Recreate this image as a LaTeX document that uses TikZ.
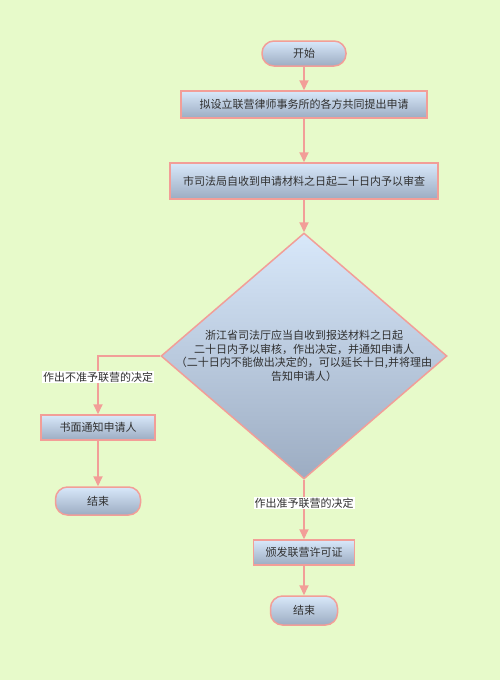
\documentclass[tikz,border=0pt]{standalone}
\usepackage{fontspec}
\setmainfont{Noto Sans CJK SC}
\usepackage{tikz}
\usetikzlibrary{arrows.meta,shapes.geometric}

\definecolor{bgcol}{RGB}{231,250,202}
\definecolor{edgecol}{RGB}{242,158,152}
\definecolor{topcol}{RGB}{216,232,250}
\definecolor{botcol}{RGB}{156,172,194}
\definecolor{txtcol}{RGB}{48,48,48}

\begin{document}
\begin{tikzpicture}[x=1pt,y=-1pt,
		font=\fontsize{11}{13.5}\selectfont,
		box/.style={draw=edgecol,line width=1.5pt,top color=topcol,bottom color=botcol,text=txtcol,inner sep=0pt},
		proc/.style={box,rectangle},
		term/.style={box,rounded corners=12pt},
		flow/.style={draw=edgecol,line width=2pt,-{Triangle[length=10pt,width=9pt]}},
		lbl/.style={fill=white,inner sep=1pt,text=txtcol}]
		% background
		\fill[bgcol] (0,0) rectangle (500,680);
		
		% main column
		\node[term,minimum width=84pt,minimum height=25pt] (start) at (304,53.5) {开始};
		\node[proc,minimum width=246pt,minimum height=27pt] (apply) at (304,104.5) {拟设立联营律师事务所的各方共同提出申请};
		\node[proc,minimum width=268pt,minimum height=36pt] (review) at (304,181) {市司法局自收到申请材料之日起二十日内予以审查};
		
		% decision
		\node[box,diamond,minimum width=286pt,minimum height=246pt] (dec) at (304,356) {};
		\node[text=txtcol,align=center,inner sep=0pt] (dectxt) at (dec.center) {浙江省司法厅应当自收到报送材料之日起\\二十日内予以审核，作出决定，并通知申请人\\（二十日内不能做出决定的，可以延长十日,并将理由\\告知申请人）};
		
		% refused branch
		\node[proc,minimum width=114pt,minimum height=25pt] (notify) at (98,427.5) {书面通知申请人};
		\node[term,minimum width=85pt,minimum height=28pt] (endno) at (98,501) {结束};
		
		% approved branch
		\node[proc,minimum width=101pt,minimum height=25pt] (permit) at (304,552.5) {颁发联营许可证};
		\node[term,minimum width=67pt,minimum height=29pt] (endyes) at (304,610.5) {结束};
		
		% connectors
		\draw[flow] (start) -- (apply);
		\draw[flow] (apply) -- (review);
		\draw[flow] (review) -- (dec.north);
		\draw[flow] (dec.west) -| (notify);
		\draw[flow] (notify) -- (endno);
		\draw[flow] (dec.south) -- (permit);
		\draw[flow] (permit) -- (endyes);
		
		% branch labels
		\node[lbl] (nolbl) at (98,377) {作出不准予联营的决定};
		\node[lbl] (yeslbl) at (304,503) {作出准予联营的决定};
	\end{tikzpicture}
\end{document}
